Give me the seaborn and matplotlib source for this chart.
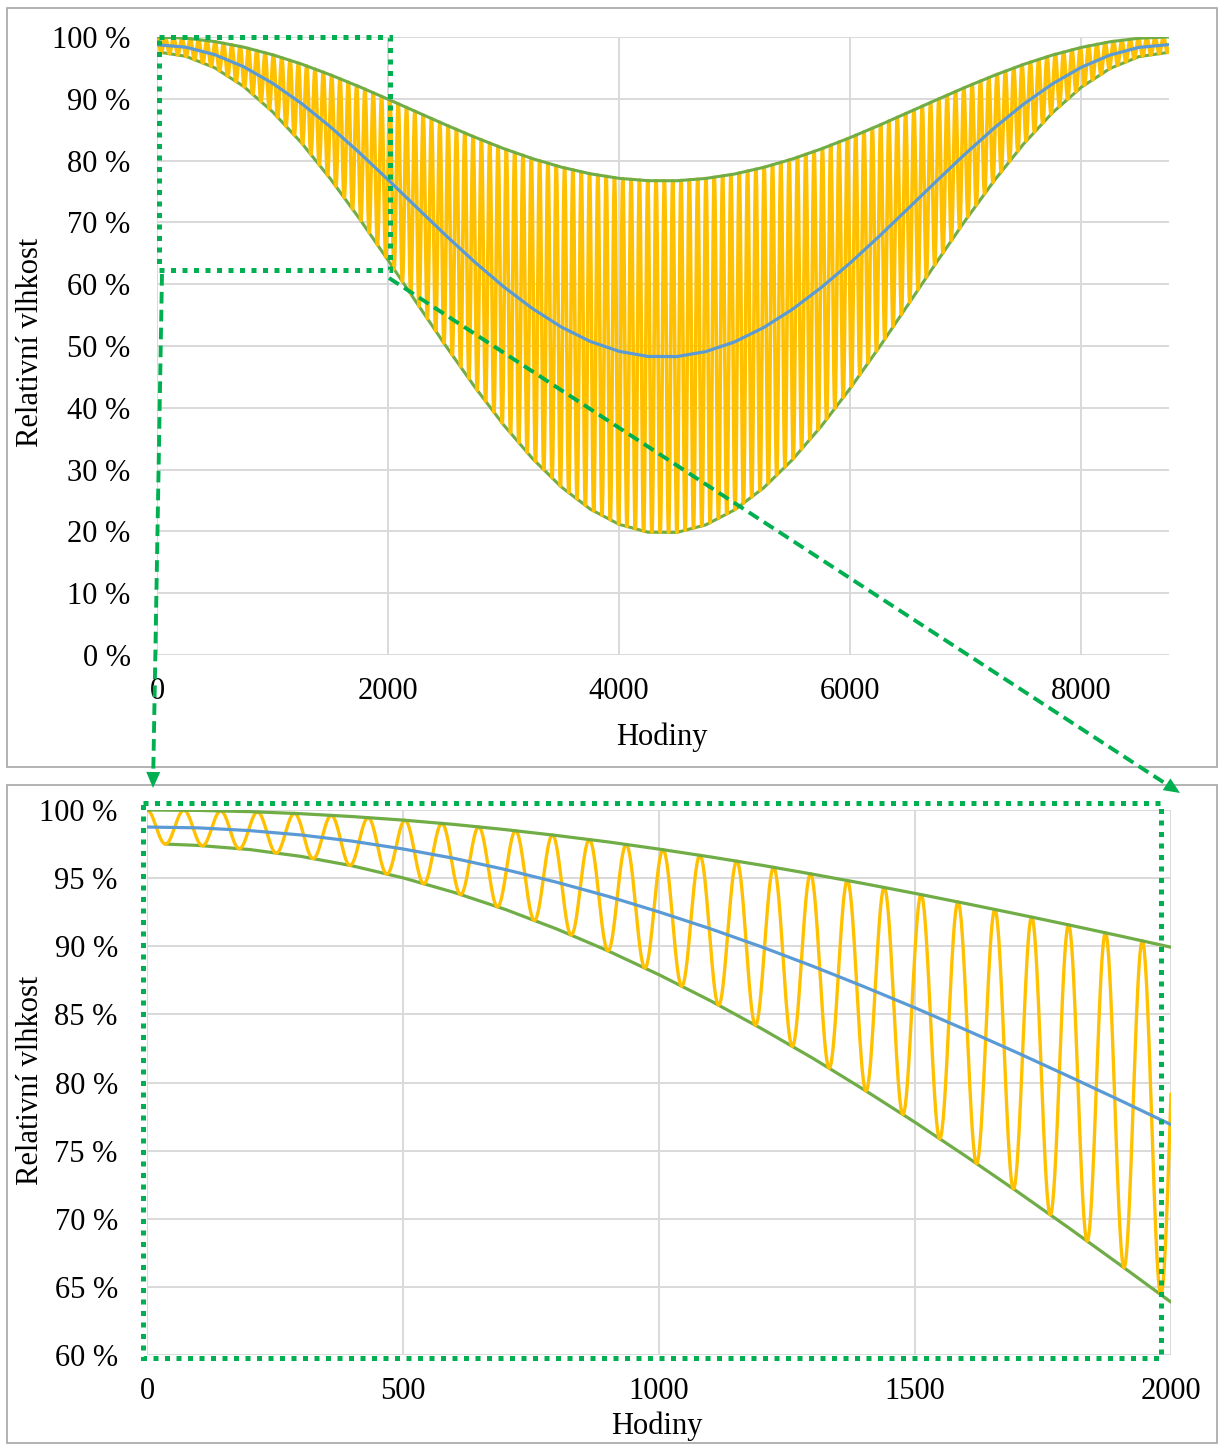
import numpy as np
import matplotlib
matplotlib.use("Agg")
import matplotlib.pyplot as plt
from matplotlib.patches import Rectangle
from matplotlib.ticker import FuncFormatter, MultipleLocator
import seaborn as sns

# whole year, envelope readings every 250 h (last = end of year)
hours = list(range(0, 8751, 250)) + [8760]
rh_upper = [100.00, 99.81, 99.26, 98.36, 97.13, 95.63, 93.88, 91.97, 89.93, 87.85,
            85.78, 83.80, 81.95, 80.32, 78.94, 77.87, 77.13, 76.75, 76.74, 77.11,
            77.83, 78.90, 80.26, 81.89, 83.72, 85.70, 87.77, 89.85, 91.89, 93.81,
            95.56, 97.07, 98.31, 99.23, 99.80, 100.00, 100.00]
rh_lower = [97.50, 96.88, 95.02, 92.01, 87.91, 82.89, 77.08, 70.67, 63.88, 56.93,
            50.02, 43.39, 37.24, 31.79, 27.19, 23.61, 21.14, 19.87, 19.84, 21.06,
            23.49, 27.03, 31.60, 37.02, 43.14, 49.75, 56.65, 63.61, 70.41, 76.83,
            82.67, 87.73, 91.86, 94.92, 96.83, 97.50, 97.50]
rh_mean = [98.75, 98.35, 97.14, 95.19, 92.52, 89.26, 85.48, 81.32, 76.91, 72.39,
           67.90, 63.60, 59.60, 56.06, 53.07, 50.74, 49.14, 48.31, 48.29, 49.09,
           50.66, 52.97, 55.93, 59.46, 63.43, 67.73, 72.21, 76.73, 81.15, 85.32,
           89.12, 92.40, 95.09, 97.08, 98.32, 98.75, 98.75]

# zoomed part (0-2000 h), read every 100 h from the lower chart
zoom_hours = list(range(0, 2001, 100))
zoom_upper = [100.00, 99.97, 99.88, 99.73, 99.52, 99.26, 98.94, 98.56, 98.13, 97.66,
              97.13, 96.56, 95.95, 95.29, 94.60, 93.88, 93.13, 92.36, 91.57, 90.76, 89.93]
zoom_lower = [97.50, 97.40, 97.10, 96.60, 95.91, 95.02, 93.95, 92.70, 91.27, 89.67,
              87.91, 86.01, 83.96, 81.79, 79.48, 77.08, 74.57, 71.99, 69.34, 66.63, 63.88]
zoom_mean = [98.75, 98.69, 98.49, 98.17, 97.72, 97.14, 96.45, 95.63, 94.70, 93.67,
             92.52, 91.29, 89.96, 88.54, 87.04, 85.48, 83.85, 82.18, 80.46, 78.70, 76.91]

lower_start = 36   # lower envelope starts at the first trough
cycle_hours = 72   # period of the short oscillation (peak to peak)

GOLD = "#FFC000"
BLUE = "#5B9BD5"
GREEN = "#70AD47"
MARK = "#00B050"
GRID = "#D9D9D9"

sns.set_theme(style="white")
plt.rcParams["font.family"] = ["Liberation Serif", "DejaVu Serif"]
plt.rcParams["text.color"] = "black"
plt.rcParams["xtick.color"] = "black"
plt.rcParams["ytick.color"] = "black"

W, H = 1224, 1445
fig = plt.figure(figsize=(W / 100, H / 100), dpi=100)


def px_axes(left, top, right, bottom):
    return fig.add_axes([left / W, 1 - bottom / H, (right - left) / W, (bottom - top) / H])


def draw(ax, xs, up, lo, mean, lw_osc, lw_env):
    lo_x = [lower_start] + xs[1:]
    # hourly oscillation swinging between the two envelopes
    t = np.arange(xs[0], xs[-1] + 1)
    up_h = np.interp(t, xs, up)
    lo_h = np.interp(t, lo_x, lo)
    osc = lo_h + (up_h - lo_h) * (1 + np.cos(2 * np.pi * t / cycle_hours)) / 2
    sns.lineplot(x=lo_x, y=lo, color=GREEN, lw=lw_env, ax=ax, zorder=2)
    sns.lineplot(x=t, y=osc, color=GOLD, lw=lw_osc, ax=ax, zorder=3, estimator=None)
    sns.lineplot(x=xs, y=mean, color=BLUE, lw=2.3, ax=ax, zorder=4)
    sns.lineplot(x=xs, y=up, color=GREEN, lw=lw_env, ax=ax, zorder=4)
    ax.grid(True, color=GRID, lw=1.4)
    ax.set_axisbelow(True)
    for s in ax.spines.values():
        s.set_visible(False)
    ax.tick_params(length=0, labelsize=22)
    ax.yaxis.set_major_formatter(FuncFormatter(lambda v, _: f"{v:.0f} %"))
    ax.set_xlabel("")
    ax.set_ylabel("")


ax1 = px_axes(157, 37, 1169, 655)
draw(ax1, hours, rh_upper, rh_lower, rh_mean, 2.6, 2.2)
ax1.set_xlim(0, 8760)
ax1.set_ylim(0, 100)
ax1.xaxis.set_major_locator(MultipleLocator(2000))
ax1.yaxis.set_major_locator(MultipleLocator(10))
ax1.tick_params(axis="y", pad=19)
ax1.tick_params(axis="x", pad=16)

ax2 = px_axes(147, 810, 1171, 1355)
draw(ax2, zoom_hours, zoom_upper, zoom_lower, zoom_mean, 2.4, 2.3)
ax2.set_xlim(0, 2000)
ax2.set_ylim(60, 100)
ax2.xaxis.set_major_locator(MultipleLocator(500))
ax2.yaxis.set_major_locator(MultipleLocator(5))
ax2.tick_params(axis="y", pad=21)
ax2.tick_params(axis="x", pad=16)

# axis titles
fig.text(662 / W, 1 - 737 / H, "Hodiny", fontsize=22, ha="center", va="center")
fig.text(657 / W, 1 - 1426 / H, "Hodiny", fontsize=22, ha="center", va="center")
fig.text(31 / W, 1 - 342 / H, "Relativní vlhkost", fontsize=22, rotation=90,
         ha="center", va="center")
fig.text(31 / W, 1 - 1080 / H, "Relativní vlhkost", fontsize=22, rotation=90,
         ha="center", va="center")

# overlay in pixel coordinates for frames, zoom boxes and arrows
ov = fig.add_axes([0, 0, 1, 1], zorder=10)
ov.set_xlim(0, W)
ov.set_ylim(H, 0)
ov.axis("off")
ov.patch.set_alpha(0)

for box in [(7, 8, 1210, 759), (7, 785, 1210, 658)]:
    ov.add_patch(Rectangle(box[:2], box[2], box[3], fill=False, ec="#A6A6A6", lw=1.2))

dot = (0, (1, 1.3))
ov.add_patch(Rectangle((159, 37), 231, 233, fill=False, ec=MARK, lw=3.6, ls=dot))
ov.add_patch(Rectangle((143, 803), 1018, 555, fill=False, ec=MARK, lw=3.6, ls=dot))


def dashed_arrow(p0, p1):
    p0, p1 = np.array(p0, float), np.array(p1, float)
    d = (p1 - p0) / np.hypot(*(p1 - p0))
    n = np.array([-d[1], d[0]])
    base = p1 - 16 * d
    ov.plot([p0[0], base[0]], [p0[1], base[1]], color=MARK, lw=2.8, dashes=(3, 1.6))
    tri = np.array([p1, base + 7 * n, base - 7 * n])
    ov.fill(tri[:, 0], tri[:, 1], color=MARK, lw=0)


dashed_arrow((162, 274), (153, 788))
dashed_arrow((389, 278), (1180, 793))

fig.savefig("out.png", dpi=100)
